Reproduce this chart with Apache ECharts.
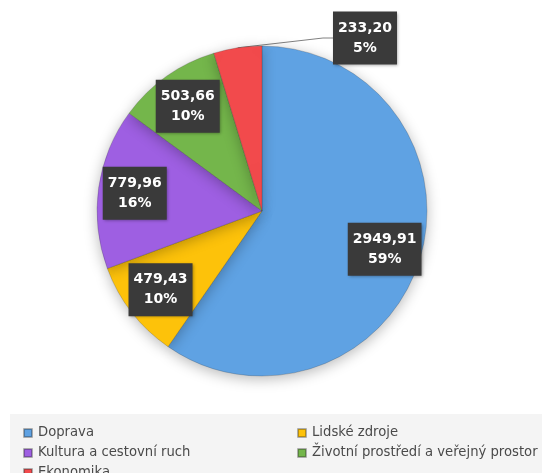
<!DOCTYPE html>
<html>
<head>
<meta charset="utf-8">
<script src="https://cdn.jsdelivr.net/npm/echarts@6/dist/echarts.min.js"></script>
<style>
html,body{margin:0;padding:0;background:#fff;}
#c{width:542px;height:473px;}
</style>
</head>
<body>
<div id="c"></div>
<script>
const categories = ['Doprava', 'Lidské zdroje', 'Kultura a cestovní ruch', 'Životní prostředí a veřejný prostor', 'Ekonomika'];
const values = [2949.91, 479.43, 779.96, 503.66, 233.20];
const percentLabels = ['59%', '10%', '16%', '10%', '5%'];
const colors = ['#5fa2e3', '#fdc20a', '#9e5fe2', '#74b64b', '#f24a4c'];
const legendLeft = ['Doprava', 'Kultura a cestovní ruch', 'Ekonomika'];
const legendRight = ['Lidské zdroje', 'Životní prostředí a veřejný prostor'];

function fmt(v) { return v.toFixed(2).replace('.', ','); }

const chart = echarts.init(document.getElementById('c'), null, {renderer: 'canvas'});

const mainData = categories.map((n, i) => ({
  name: n, value: values[i],
  itemStyle: {color: colors[i]}
}));

const labelData = categories.map((n, i) => {
  const outside = i === 4;
  return {
    name: n, value: values[i],
    label: {position: outside ? 'outside' : 'inside'},
    labelLine: {show: outside}
  };
});

const labelStyle = {
  show: true,
  formatter: p => fmt(values[p.dataIndex]) + '\n' + percentLabels[p.dataIndex],
  color: '#ffffff',
  fontFamily: 'DejaVu Sans',
  fontWeight: 'bold',
  fontSize: 14,
  lineHeight: 20,
  align: 'center',
  backgroundColor: '#3a3a3a',
  padding: [7, 5, 6, 5],
  shadowColor: 'rgba(0,0,0,0.35)',
  shadowBlur: 3,
  shadowOffsetX: 1,
  shadowOffsetY: 1
};

const legendText = {fontFamily: 'DejaVu Sans', fontSize: 13.2, color: '#4a4a4a', lineHeight: 16, padding: [0, 0, 0, 1]};

chart.setOption({
  animation: false,
  graphic: [{
    type: 'rect', left: 10, top: 414, z: -1,
    shape: {width: 532, height: 59},
    style: {fill: '#f4f4f4'}
  }],
  legend: [{
    data: legendLeft, orient: 'vertical', left: 18, top: 420, height: 90,
    icon: 'rect', itemWidth: 8, itemHeight: 8, itemGap: 4,
    textStyle: legendText, selectedMode: false
  }, {
    data: legendRight, orient: 'vertical', left: 292, top: 420, height: 90,
    icon: 'rect', itemWidth: 8, itemHeight: 8, itemGap: 4,
    textStyle: legendText, selectedMode: false
  }],
  series: [{
    type: 'pie',
    center: [262, 211],
    radius: [0, 165],
    startAngle: 90,
    clockwise: true,
    silent: true,
    label: {show: false},
    labelLine: {show: false},
    itemStyle: {
      borderColor: 'rgba(40,40,40,0.35)',
      borderWidth: 0.6,
      shadowColor: 'rgba(0,0,0,0.28)',
      shadowBlur: 14,
      shadowOffsetY: 3
    },
    data: mainData
  }, {
    type: 'pie',
    center: [262, 211],
    radius: [86, 165],
    startAngle: 90,
    clockwise: true,
    silent: true,
    itemStyle: {color: 'rgba(0,0,0,0)'},
    label: labelStyle,
    labelLine: {
      length: 10, length2: 10,
      lineStyle: {color: '#808080', width: 1}
    },
    labelLayout: function (p) {
      if (p.dataIndex === 4) {
        return {
          x: p.rect.x + p.rect.width + 103,
          y: p.rect.y - 8,
          align: 'center',
          verticalAlign: 'middle'
        };
      }
    },
    data: labelData
  }]
});
</script>
</body>
</html>
